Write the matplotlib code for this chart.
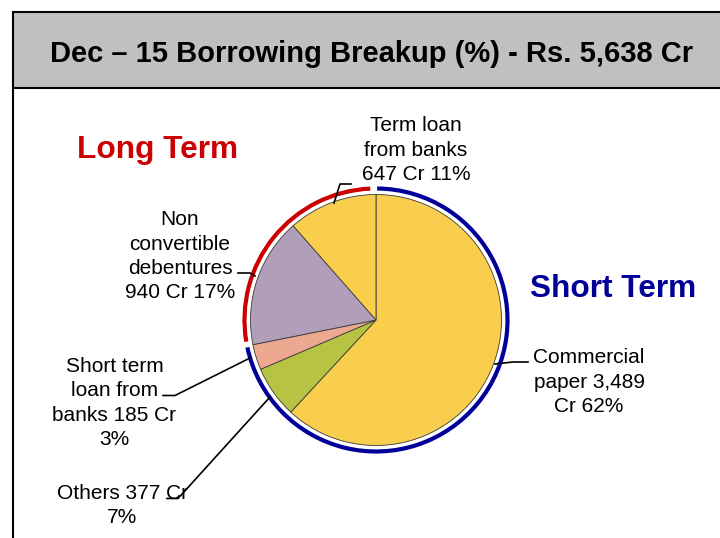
import matplotlib
matplotlib.use("Agg")
import matplotlib.pyplot as plt
from matplotlib.patches import Rectangle, Arc

plt.rcParams['font.family'] = ['Liberation Sans', 'DejaVu Sans']

# ---- data ----
title = "Dec \u2013 15 Borrowing Breakup (%) - Rs. 5,638 Cr"
categories = ["Commercial paper", "Others", "Short term loan from banks",
              "Non convertible debentures", "Term loan from banks"]
values = [3489, 377, 185, 940, 647]
labels = ["Commercial\npaper 3,489\nCr 62%",
          "Others 377 Cr\n7%",
          "Short term\nloan from\nbanks 185 Cr\n3%",
          "Non\nconvertible\ndebentures\n940 Cr 17%",
          "Term loan\nfrom banks\n647 Cr 11%"]
colors = ["#F8CE4C", "#B7C443", "#EDA890", "#B19FBA", "#F8CE4C"]

W, H = 720, 538
def Y(y):
    return H - y

fig = plt.figure(figsize=(7.2, 5.38), dpi=100)
ax = fig.add_axes([0, 0, 1, 1])

# pie
cx, cy, r = 376, Y(320), 125.5
ax.pie(values, colors=colors, startangle=90, counterclock=False,
       center=(cx, cy), radius=r,
       wedgeprops=dict(edgecolor="#3a3a3a", linewidth=0.6))
ax.set_xlim(0, W)
ax.set_ylim(0, H)
ax.set_aspect('equal')
ax.axis('off')

# frame
ax.add_patch(Rectangle((12.5, Y(88)), W + 10, 88 - 11.5, facecolor="#C0C0C0",
                       edgecolor="black", lw=1.5, zorder=1))
ax.plot([12.5, 12.5], [Y(88), -5], color="black", lw=1.5, zorder=1)
ax.text(372, Y(61.5), title, ha='center', va='baseline', fontsize=21,
        fontweight='bold', color='black', zorder=3)

# outer arcs
ra = 131.5
ax.add_patch(Arc((cx, cy), 2 * ra, 2 * ra, theta1=-168, theta2=89.5,
                 color="#000099", lw=3.0, zorder=4))
ax.add_patch(Arc((cx, cy), 2 * ra, 2 * ra, theta1=92.5, theta2=189.5,
                 color="#CC0000", lw=3.0, zorder=4))

# group headings
ax.text(77, Y(158), "Long Term", ha='left', va='baseline', fontsize=22.8,
        fontweight='bold', color="#CC0000")
ax.text(530, Y(297), "Short Term", ha='left', va='baseline', fontsize=22.8,
        fontweight='bold', color="#000099")

# labels (position = last line baseline)
label_pos = [(589, 412), (122.5, 523), (114.5, 445), (180, 298.5), (416, 180)]
for lab, (x, y) in zip(labels, label_pos):
    ax.text(x, Y(y), lab, ha='center', va='baseline', fontsize=15,
            linespacing=1.36, color='black', zorder=5)

# leader lines
leaders = [
    [(495, 364), (513, 362), (528, 362)],
    [(270, 397), (178, 498.5), (167, 498.5)],
    [(250, 358), (175, 395.5), (163, 395.5)],
    [(255, 276), (250, 273), (238, 273)],
    [(334, 203), (340, 184), (351, 184)],
]
for pts in leaders:
    xs = [p[0] for p in pts]
    ys = [Y(p[1]) for p in pts]
    ax.plot(xs, ys, color='black', lw=1.2, zorder=6)

fig.savefig("out.png", dpi=100)
